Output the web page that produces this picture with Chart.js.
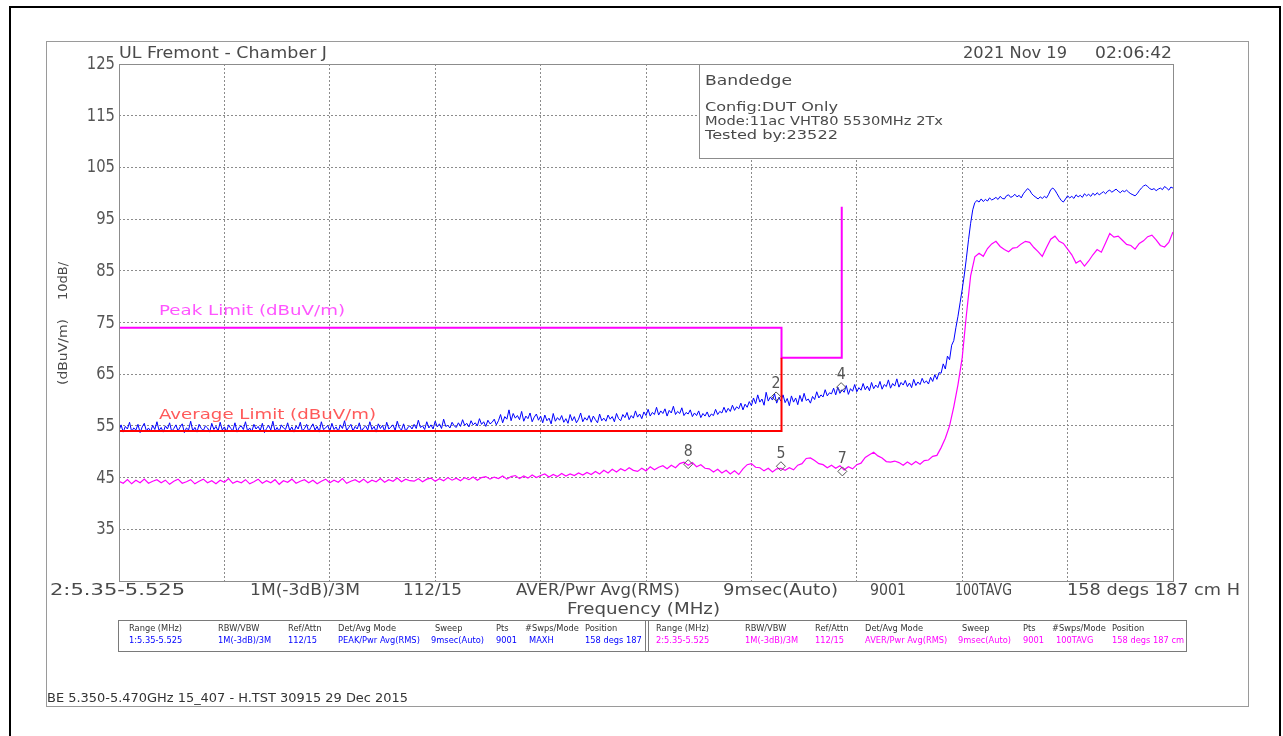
<!DOCTYPE html>
<html>
<head>
<meta charset="utf-8">
<title>Bandedge 5.35-5.525 GHz</title>
<script src="https://cdn.jsdelivr.net/npm/chart.js@4.4.1/dist/chart.umd.min.js"></script>
<style>
  html, body { margin: 0; padding: 0; background: #ffffff; overflow: hidden; }
  canvas { display: block; }
</style>
</head>
<body>
<canvas id="plot" width="1283" height="736"></canvas>
<script>
// Sweep settings (MHz)
const sweepStartMHz = 5350;
const sweepStopMHz = 5525;

// Trace 1: PEAK detector, max hold (dBuV/m), evenly spaced across the sweep
const peakTrace = [
  54.1, 55.2, 53.8, 54.9, 54.4, 55.7, 53.9, 54.6, 54.2, 55.3,
  53.7, 54.8, 55.5, 54.0, 54.6, 53.9, 55.1, 54.3, 55.8, 54.1,
  54.7, 53.8, 55.0, 54.4, 55.6, 53.9, 54.5, 55.2, 54.0, 54.8,
  55.4, 53.7, 54.6, 54.2, 55.9, 54.0, 54.7, 53.8, 55.3, 54.5,
  54.1, 55.0, 54.6, 53.8, 55.5, 54.3, 54.9, 54.0, 55.7, 54.2,
  54.8, 53.9, 55.2, 54.5, 54.1, 55.6, 53.8, 54.7, 55.0, 54.3,
  55.8, 54.0, 54.6, 53.9, 55.3, 54.4, 54.9, 54.1, 55.5, 53.7,
  54.5, 55.1, 54.2, 55.9, 54.0, 54.7, 53.9, 55.2, 54.6, 54.3,
  55.6, 54.1, 54.8, 53.8, 55.0, 54.4, 55.7, 54.0, 54.5, 55.3,
  53.9, 54.7, 55.4, 54.2, 54.9, 53.8, 55.8, 54.3, 54.6, 55.1,
  54.0, 55.5, 54.3, 54.8, 53.9, 55.2, 54.5, 56.0, 54.1, 54.7,
  55.3, 54.0, 54.9, 54.4, 55.6, 53.9, 54.6, 55.0, 54.2, 55.8,
  54.3, 54.9, 53.8, 55.4, 54.5, 55.1, 54.0, 55.7, 54.4, 54.8,
  55.2, 54.1, 55.9, 54.6, 54.2, 55.4, 53.9, 54.7, 55.0, 54.4,
  55.3, 54.5, 56.1, 54.7, 55.0, 54.3, 55.8, 54.6, 55.2, 54.4,
  55.9, 54.8, 55.4, 54.5, 56.3, 54.9, 55.1, 54.6, 55.7, 55.0,
  54.7, 55.6, 54.9, 56.2, 55.1, 55.5, 54.8, 56.0, 55.2, 55.6,
  55.0, 56.4, 55.3, 55.8, 54.9, 56.1, 55.4, 55.7, 56.3, 55.2,
  56.0, 57.2, 55.6, 56.8, 56.3, 58.1, 56.0, 57.4, 56.5, 57.0,
  56.2, 57.8, 55.9, 56.9, 56.4, 57.5, 55.8, 56.7, 57.3, 56.1,
  56.9, 55.6, 57.1, 56.0, 56.5, 55.4, 57.4, 55.9, 56.6, 56.1,
  57.0, 55.7, 56.4, 55.5, 57.2, 56.0, 56.8, 55.6, 56.3, 57.5,
  55.8, 56.6, 56.1, 57.0, 55.7, 56.9, 56.2, 55.6, 57.3, 56.0,
  56.5, 55.9, 57.1, 56.3, 56.8, 55.8, 57.4, 56.4, 56.0, 57.2,
  56.6, 57.6, 56.2, 57.0, 56.5, 57.9, 56.7, 57.3, 56.4, 57.7,
  57.0, 58.2, 56.9, 57.6, 57.2, 58.6, 57.1, 57.9, 57.4, 58.3,
  56.9, 58.0, 57.5, 58.8, 57.2, 57.8, 57.4, 58.5, 57.0, 57.6,
  57.3, 58.1, 56.8, 57.5, 57.0, 57.9, 56.6, 57.4, 56.9, 57.7,
  56.7, 57.3, 57.0, 58.2, 57.2, 57.8, 57.5, 58.6, 57.6, 58.4,
  57.8, 59.0, 58.0, 58.7, 58.3, 59.4, 58.1, 59.2, 58.6, 59.7,
  58.9, 60.4, 59.3, 61.0, 59.6, 60.2, 59.0, 61.5, 59.8, 60.6,
  60.0, 61.2, 59.4, 60.5, 59.8, 61.0, 59.5, 60.3, 58.9, 60.8,
  59.6, 60.4, 59.1, 60.9, 59.7, 61.3, 59.9, 60.2, 59.4, 60.7,
  60.1, 61.6, 60.4, 61.0, 60.6, 62.0, 60.8, 61.4, 61.2, 62.3,
  61.0, 62.5, 61.3, 62.0, 61.5, 62.8, 61.1, 62.2, 61.7, 63.0,
  61.6, 62.4, 61.9, 63.2, 62.0, 62.7, 61.8, 63.4, 62.2, 62.9,
  62.4, 63.6, 62.1, 63.0, 62.6, 63.9, 62.3, 63.2, 62.7, 64.1,
  62.5, 63.4, 62.9, 63.8, 62.6, 63.3, 62.4, 64.0, 62.8, 63.5,
  63.0, 64.2, 63.3, 63.7, 63.1, 64.4, 63.6, 64.9, 64.0, 65.3,
  65.2, 67.0, 66.0, 68.5, 67.8, 70.6, 71.5, 74.0, 76.2, 78.8,
  81.4, 84.2, 87.5, 91.0, 94.2, 96.8, 98.2, 98.6, 98.3, 98.9,
  98.4, 98.8, 98.5, 99.1, 98.7, 98.9, 99.2, 98.8, 99.4, 99.0,
  98.9, 99.5, 99.7, 99.2, 99.4, 99.8, 99.3, 99.6, 99.1, 99.9,
  100.4, 100.9, 100.6, 99.9, 99.5, 99.2, 98.9, 99.3, 99.0, 99.4,
  99.1, 99.8, 100.7, 101.0, 100.6, 99.9, 99.2, 98.6, 98.3, 98.9,
  99.5, 99.1, 99.4, 99.0, 99.7, 99.3, 99.6, 99.2, 99.9, 99.5,
  99.8, 99.4, 100.0, 99.6, 100.1, 99.7, 100.0, 100.3, 99.9, 100.4,
  100.6, 100.2, 100.5, 100.8, 100.4, 100.1, 100.5, 100.3, 100.6, 100.2,
  99.9, 99.7, 99.5, 99.9, 100.5, 101.0, 101.4, 101.6, 101.3, 100.9,
  100.7, 100.9, 100.5, 100.8, 101.0, 100.7, 101.3, 101.0, 100.6, 101.2,
  101.0
];

// Trace 2: AVERAGE (RMS power average, 100 sweeps) in dBuV/m
const avgTrace = [
  44.3, 43.9, 44.6, 43.8, 44.5, 44.0, 44.7, 43.9, 44.3, 44.6,
  44.0, 44.5, 43.7, 44.3, 44.7, 43.9, 44.2, 44.6, 43.8, 44.3,
  44.7, 44.0, 44.4, 43.8, 44.5, 44.1, 44.8, 43.9, 44.3, 44.0,
  44.6, 43.8, 44.2, 44.7, 43.9, 44.4, 44.0, 44.6, 43.7, 44.4,
  44.1, 44.7, 43.9, 44.3, 44.6, 44.0, 44.5, 43.8, 44.3, 44.7,
  44.0, 44.5, 44.1, 44.8, 43.9, 44.3, 44.6, 44.1, 44.7, 44.0,
  44.5, 44.2, 44.8, 44.1, 44.6, 44.3, 44.9, 44.2, 44.7, 44.4,
  44.3, 44.8, 44.2, 44.7, 44.9, 44.3, 44.8, 44.4, 45.0, 44.5,
  44.9, 44.4, 45.0, 44.6, 45.1, 44.5, 45.0, 45.2, 44.7, 45.1,
  44.8, 45.3, 44.7, 45.2, 45.4, 44.8, 45.3, 44.9, 45.5, 45.0,
  45.4, 45.7, 45.1, 45.6, 45.2, 45.8, 45.3, 45.7, 45.4, 45.9,
  45.5, 46.0, 45.6, 46.2, 45.7, 46.4, 45.9, 46.6, 46.1, 46.7,
  46.3, 46.9, 46.4, 46.2, 46.8, 46.3, 47.1, 46.5, 47.0, 47.3,
  46.7, 47.4, 46.9, 47.7, 48.0, 47.4, 47.9, 47.1, 47.5, 46.8,
  46.7, 46.1, 46.6, 45.9, 46.4, 45.7, 46.3, 45.6, 46.7, 47.5,
  47.7, 47.0, 46.9, 46.3, 46.8, 46.1, 46.7, 46.8, 46.4, 46.9,
  46.5, 47.4, 47.7, 48.7, 48.8, 48.3, 47.7, 47.5, 46.9, 47.4,
  46.8, 47.3, 46.5, 47.1, 46.7, 47.5, 47.8, 48.9, 49.4, 49.9,
  49.2, 48.8, 48.1, 48.0, 48.2, 47.9, 47.4, 48.0, 47.5, 48.1,
  47.6, 48.3, 48.4, 49.1, 49.3, 50.8, 52.6, 55.0, 58.7, 63.0,
  68.2, 76.5, 84.0, 87.7, 88.4, 87.8, 89.3, 90.2, 90.7, 89.7,
  89.1, 88.7, 89.4, 89.5, 90.2, 90.7, 90.5, 89.5, 88.7, 87.8,
  89.5, 91.1, 91.7, 90.7, 90.3, 89.2, 88.1, 86.5, 87.0, 85.9,
  86.9, 88.1, 89.1, 88.6, 90.4, 92.2, 91.5, 91.7, 90.9, 90.1,
  89.9, 89.2, 90.3, 90.8, 91.6, 91.9, 91.0, 89.9, 89.6, 90.5,
  92.5
];

// FCC 15.407 limit lines (frequency MHz / level dBuV/m)
const peakLimitFreq = [5350, 5460, 5460, 5470, 5470];
const peakLimitLevel = [74, 74, 68.2, 68.2, 97.4];
const avgLimitFreq = [5350, 5460, 5460];
const avgLimitLevel = [54, 54, 68.2];

// Markers
const markerIds = ['2', '4', '8', '5', '7'];
const markerFreq = [5459.1, 5469.9, 5444.5, 5459.9, 5470.1];
const markerLevel = [60.7, 62.5, 47.6, 47.2, 46.2];

// Axis ticks
const levelTicks = [25, 35, 45, 55, 65, 75, 85, 95, 105, 115, 125];
const levelLabels = ['', '35', '45', '55', '65', '75', '85', '95', '105', '115', '125'];

// Annotation texts
const siteTitle = 'UL Fremont - Chamber J';
const runDate = '2021 Nov 19';
const runTime = '02:06:42';
const infoTitle = 'Bandedge';
const infoLines = ['Config:DUT Only', 'Mode:11ac VHT80 5530MHz 2Tx', 'Tested by:23522'];
const sweepSummary = ['2:5.35-5.525', '1M(-3dB)/3M', '112/15', 'AVER/Pwr Avg(RMS)', '9msec(Auto)', '9001', '100TAVG', '158 degs 187 cm H'];
const xTitle = 'Frequency (MHz)';
const yTitleUnit = '(dBuV/m)';
const yTitleScale = '10dB/';
const peakLimitLabel = 'Peak Limit (dBuV/m)';
const avgLimitLabel = 'Average Limit (dBuV/m)';
const tableHeaders = ['Range (MHz)', 'RBW/VBW', 'Ref/Attn', 'Det/Avg Mode', 'Sweep', 'Pts', '#Swps/Mode', 'Position'];
const peakSettings = ['1:5.35-5.525', '1M(-3dB)/3M', '112/15', 'PEAK/Pwr Avg(RMS)', '9msec(Auto)', '9001', 'MAXH', '158 degs 187'];
const avgSettings = ['2:5.35-5.525', '1M(-3dB)/3M', '112/15', 'AVER/Pwr Avg(RMS)', '9msec(Auto)', '9001', '100TAVG', '158 degs 187 cm'];
const footerText = 'BE 5.350-5.470GHz 15_407 - H.TST 30915 29 Dec 2015';

// ---------------------------------------------------------------------------
const FONT = '"DejaVu Sans", "Liberation Sans", sans-serif';
const INK = '#4a4a4a';
const FRAME = '#8c8c8c';

const toPoints = (xs, ys) => ys.map((y, i) => ({ x: xs[i], y }));
// each trace is sampled evenly from sweep start to sweep stop
const tracePoints = vals => vals.map((y, i) => ({
  x: sweepStartMHz + i * (sweepStopMHz - sweepStartMHz) / (vals.length - 1),
  y
}));
const divisions = Array.from({ length: 11 }, (_, k) => sweepStartMHz + k * (sweepStopMHz - sweepStartMHz) / 10);

// Text helper: alphabetic baseline, optional fit to a width (horizontal scale)
function drawText(ctx, text, x, y, o = {}) {
  const size = o.size || 14;
  ctx.save();
  ctx.font = `${size}px ${FONT}`;
  ctx.fillStyle = o.color || INK;
  ctx.textBaseline = 'alphabetic';
  ctx.textAlign = 'left';
  const m = ctx.measureText(text).width;
  const sx = o.width ? o.width / m : (o.sx || 1);
  const drawn = m * sx;
  ctx.translate(x, y);
  if (o.rotate) ctx.rotate(o.rotate);
  let ox = 0;
  if (o.align === 'right') ox = -drawn;
  else if (o.align === 'center') ox = -drawn / 2;
  ctx.translate(ox, 0);
  ctx.scale(sx, 1);
  ctx.fillText(text, 0, 0);
  ctx.restore();
}

const pageDecor = {
  id: 'pageDecor',
  beforeDraw(chart) {
    const ctx = chart.ctx;
    ctx.save();
    ctx.fillStyle = '#ffffff';
    ctx.fillRect(0, 0, chart.width, chart.height);
    // outer black border
    ctx.strokeStyle = '#000000';
    ctx.lineWidth = 2;
    ctx.strokeRect(10, 7, 1270, 740);
    // inner gray frame
    ctx.strokeStyle = '#9a9a9a';
    ctx.lineWidth = 1;
    ctx.strokeRect(46.5, 41.5, 1202, 665);
    ctx.restore();
  },
  afterDraw(chart) {
    const ctx = chart.ctx;
    const area = chart.chartArea;
    const xs = chart.scales.x;
    const ys = chart.scales.y;

    // plot frame
    ctx.save();
    ctx.strokeStyle = FRAME;
    ctx.lineWidth = 1;
    ctx.strokeRect(Math.round(area.left) + 0.5, Math.round(area.top) + 0.5,
      Math.round(area.right - area.left), Math.round(area.bottom - area.top));

    // info box in the upper right of the plot
    const bx = 699.5, by = Math.round(area.top) + 0.5, bw = Math.round(area.right) - 699, bh = 94;
    ctx.fillStyle = '#ffffff';
    ctx.fillRect(bx, by, bw, bh);
    ctx.strokeRect(bx, by, bw, bh);
    ctx.restore();

    drawText(ctx, infoTitle, 705, 85, { size: 14, width: 87 });
    drawText(ctx, infoLines[0], 705, 111, { size: 12, width: 133 });
    drawText(ctx, infoLines[1], 705, 125, { size: 12, width: 238 });
    drawText(ctx, infoLines[2], 705, 139, { size: 12, width: 133 });

    // headings above the plot
    drawText(ctx, siteTitle, area.left, 58, { size: 15, width: 208 });
    drawText(ctx, runDate, 963, 58, { size: 15, width: 104 });
    drawText(ctx, runTime, 1095, 58, { size: 15, width: 77 });

    // level labels
    levelTicks.forEach((v, i) => {
      const lbl = levelLabels[i];
      if (!lbl) return;
      const py = ys.getPixelForValue(v);
      drawText(ctx, lbl, 115, py + 5, { size: 18, width: lbl.length * 9.4, align: 'right', color: '#555555' });
    });

    // vertical axis title
    drawText(ctx, yTitleUnit, 67, 385, { size: 12, width: 66, rotate: -Math.PI / 2 });
    drawText(ctx, yTitleScale, 67, 300, { size: 12, width: 38, rotate: -Math.PI / 2 });

    // sweep summary row under the plot
    const sumX = [50, 250, 403, 516, 723, 870, 955, 1067];
    const sumW = [135, 110, 59, 164, 115, 36, 57, 173];
    sweepSummary.forEach((t, i) => drawText(ctx, t, sumX[i], 595, { size: 16, width: sumW[i] }));
    drawText(ctx, xTitle, 567, 614, { size: 16, width: 153 });

    // limit captions
    drawText(ctx, peakLimitLabel, 159, 315, { size: 14, width: 186, color: '#ff55ff' });
    drawText(ctx, avgLimitLabel, 159, 419, { size: 14, width: 217, color: '#ff5a5a' });

    // marker numbers
    markerIds.forEach((id, i) => {
      const px = xs.getPixelForValue(markerFreq[i]);
      const py = ys.getPixelForValue(markerLevel[i]);
      drawText(ctx, id, px, py - 8, { size: 16, width: 9, align: 'center', color: '#555555' });
    });

    // settings table
    ctx.save();
    ctx.strokeStyle = '#7a7a7a';
    ctx.lineWidth = 1;
    ctx.strokeRect(118.5, 620.5, 1068, 31);
    ctx.beginPath();
    ctx.moveTo(645.5, 620.5); ctx.lineTo(645.5, 651.5);
    ctx.moveTo(648.5, 620.5); ctx.lineTo(648.5, 651.5);
    ctx.stroke();
    ctx.restore();
    const hdrX = [129, 218, 288, 338, 435, 496, 525, 585];
    const valX = [129, 218, 288, 338, 431, 496, 529, 585];
    const half = 527;
    tableHeaders.forEach((t, i) => {
      drawText(ctx, t, hdrX[i], 631, { size: 9, sx: 0.92, color: '#333333' });
      drawText(ctx, t, hdrX[i] + half, 631, { size: 9, sx: 0.92, color: '#333333' });
    });
    peakSettings.forEach((t, i) => drawText(ctx, t, valX[i], 643, { size: 9, sx: 0.92, color: '#0000ff' }));
    avgSettings.forEach((t, i) => drawText(ctx, t, valX[i] + half, 643, { size: 9, sx: 0.92, color: '#ff00ff' }));

    // footer
    drawText(ctx, footerText, 47, 702, { size: 12, width: 361, color: '#333333' });
  }
};

new Chart(document.getElementById('plot'), {
  type: 'line',
  data: {
    datasets: [
      {
        label: 'Markers',
        type: 'scatter',
        data: toPoints(markerFreq, markerLevel),
        pointStyle: 'rectRot',
        pointRadius: 4.5,
        borderColor: '#555555',
        backgroundColor: 'rgba(0,0,0,0)',
        borderWidth: 1,
        order: 1
      },
      {
        label: 'Average Limit',
        data: toPoints(avgLimitFreq, avgLimitLevel),
        borderColor: '#ff0000',
        borderWidth: 2,
        pointRadius: 0,
        order: 2
      },
      {
        label: 'Peak Limit',
        data: toPoints(peakLimitFreq, peakLimitLevel),
        borderColor: '#ff00ff',
        borderWidth: 2,
        pointRadius: 0,
        order: 3
      },
      {
        label: 'Trace 1 PEAK MAXH',
        data: tracePoints(peakTrace),
        borderColor: '#0000ff',
        borderWidth: 1,
        pointRadius: 0,
        order: 4
      },
      {
        label: 'Trace 2 AVER 100TAVG',
        data: tracePoints(avgTrace),
        borderColor: '#ff00ff',
        borderWidth: 1.2,
        pointRadius: 0,
        order: 5
      }
    ]
  },
  options: {
    responsive: false,
    animation: false,
    devicePixelRatio: 1,
    events: [],
    layout: { padding: { top: 64, right: 110, bottom: 0, left: 0 } },
    plugins: { legend: { display: false }, tooltip: { enabled: false } },
    scales: {
      x: {
        type: 'linear',
        min: sweepStartMHz,
        max: sweepStopMHz,
        afterBuildTicks: s => { s.ticks = divisions.map(v => ({ value: v })); },
        afterFit: s => { s.height = 155; },
        ticks: { display: false },
        grid: { color: '#8c8c8c', lineWidth: 1, drawTicks: false },
        border: { display: false, dash: [2, 2] }
      },
      y: {
        type: 'linear',
        min: 25,
        max: 125,
        afterBuildTicks: s => { s.ticks = levelTicks.map(v => ({ value: v })); },
        afterFit: s => { s.width = 119; },
        ticks: { display: false },
        grid: { color: '#8c8c8c', lineWidth: 1, drawTicks: false },
        border: { display: false, dash: [2, 2] }
      }
    }
  },
  plugins: [pageDecor]
});
</script>
</body>
</html>
